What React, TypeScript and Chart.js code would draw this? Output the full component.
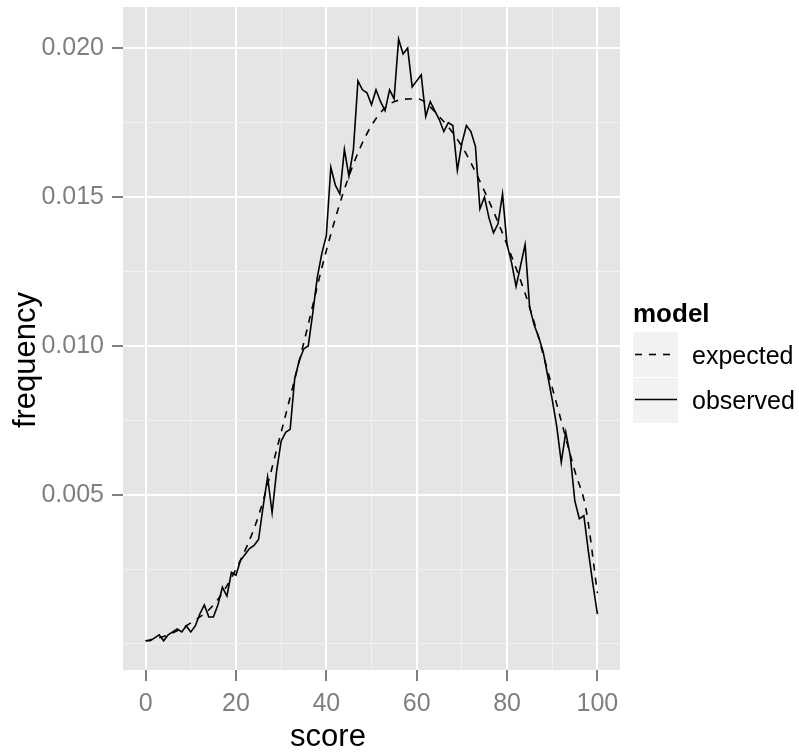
import React, { useEffect, useRef } from 'react';
import { Chart, registerables } from 'chart.js';

Chart.register(...registerables);

// ---- data ----
const obsScores = [
  0, 1, 2, 3, 4, 5, 6, 7, 8, 9, 10, 11, 12, 13, 14, 15, 16, 17, 18, 19, 20,
  21, 22, 23, 24, 25, 26, 27, 28, 29, 30, 31, 32, 33, 34, 35, 36, 37, 38, 39, 40,
  41, 42, 43, 44, 45, 46, 47, 48, 49, 50, 51, 52, 53, 54, 55, 56, 57, 58, 59, 60,
  61, 62, 63, 64, 65, 66, 67, 68, 69, 70, 71, 72, 73, 74, 75, 76, 77, 78, 79, 80,
  81, 82, 83, 84, 85, 86, 87, 88, 89, 90, 91, 92, 93, 94, 95, 96, 97, 98, 99, 100,
];
const obsFreq = [
  0.0001, 0.0001, 0.0002, 0.0003, 0.0001, 0.0003, 0.0004, 0.0005, 0.0004, 0.0006, 0.0004,
  0.0006, 0.0010, 0.0013, 0.0009, 0.0009, 0.0013, 0.0019, 0.0016, 0.0024, 0.0023,
  0.0028, 0.0030, 0.0032, 0.0033, 0.0035, 0.0046, 0.0056, 0.0044, 0.0058, 0.0068,
  0.0071, 0.0072, 0.0089, 0.0095, 0.0099, 0.0100, 0.0111, 0.0123, 0.0131, 0.0137,
  0.0160, 0.0154, 0.0151, 0.0166, 0.0157, 0.0166, 0.0189, 0.0186, 0.0185, 0.0181,
  0.0186, 0.0182, 0.0179, 0.0186, 0.0183, 0.0203, 0.0198, 0.0200, 0.0187, 0.0189,
  0.0191, 0.0177, 0.0182, 0.0179, 0.0176, 0.0172, 0.0175, 0.0174, 0.0159, 0.0168,
  0.0174, 0.0172, 0.0167, 0.0146, 0.0150, 0.0143, 0.0138, 0.0141, 0.0151, 0.0134,
  0.0128, 0.0120, 0.0127, 0.0134, 0.0113, 0.0107, 0.0103, 0.0098, 0.0090, 0.0082,
  0.0073, 0.0061, 0.0071, 0.0063, 0.0048, 0.0042, 0.0043, 0.0031, 0.0020, 0.0010,
];
const expScores = [0, 5, 10, 15, 20, 25, 30, 35, 40, 45, 50, 55, 60, 65, 70, 75, 80, 85, 90, 95, 97.5, 100];
const expFreq = [
  0.0001, 0.0003, 0.0007, 0.0013, 0.0025, 0.0043, 0.0071, 0.0101, 0.0132, 0.0157, 0.0174,
  0.0182, 0.0183, 0.0177, 0.0167, 0.0152, 0.0134, 0.0113, 0.0086, 0.0058, 0.0045, 0.0017,
];

const xTickValues = [0, 10, 20, 30, 40, 50, 60, 70, 80, 90, 100];
const xLabelTicks = [0, 20, 40, 60, 80, 100];
const yTickValues = [0, 0.0025, 0.005, 0.0075, 0.01, 0.0125, 0.015, 0.0175, 0.02];
const yLabelTicks = [0.005, 0.01, 0.015, 0.02];
const yTickLabels = ['0.005', '0.010', '0.015', '0.020'];

const xTitle = 'score';
const yTitle = 'frequency';
const legendTitle = 'model';
const seriesNames = ['expected', 'observed'];

const FONT = '"Liberation Sans", Arial, sans-serif';
const LINE_W = 1.6;

const near = (a: number, b: number) => Math.abs(a - b) < 1e-9;
const isIn = (v: number, arr: number[]) => arr.some((a) => near(a, v));

const decorPlugin = {
  id: 'decor',
  beforeDraw(chart: any) {
    const { ctx, chartArea } = chart;
    ctx.save();
    ctx.fillStyle = '#E5E5E5';
    ctx.fillRect(chartArea.left, chartArea.top, chartArea.right - chartArea.left, chartArea.bottom - chartArea.top);
    ctx.restore();
  },
  afterDraw(chart: any) {
    const { ctx } = chart;
    ctx.save();
    // axis titles
    ctx.fillStyle = '#000000';
    ctx.font = `31px ${FONT}`;
    ctx.textAlign = 'center';
    ctx.textBaseline = 'alphabetic';
    ctx.fillText(xTitle, 328, 746);
    ctx.save();
    ctx.translate(35, 360);
    ctx.rotate(-Math.PI / 2);
    ctx.fillText(yTitle, 0, 0);
    ctx.restore();

    // legend
    ctx.textAlign = 'left';
    ctx.font = `bold 26px ${FONT}`;
    ctx.fillText(legendTitle, 633, 322);
    ctx.fillStyle = '#F2F2F2';
    ctx.fillRect(633, 332, 45, 45);
    ctx.fillRect(633, 378, 45, 45);
    ctx.strokeStyle = '#000000';
    ctx.lineWidth = LINE_W;
    ctx.setLineDash([7, 7]);
    ctx.beginPath();
    ctx.moveTo(635, 354.5);
    ctx.lineTo(677, 354.5);
    ctx.stroke();
    ctx.setLineDash([]);
    ctx.beginPath();
    ctx.moveTo(635, 399.5);
    ctx.lineTo(677, 399.5);
    ctx.stroke();
    ctx.fillStyle = '#000000';
    ctx.font = `25px ${FONT}`;
    ctx.fillText(seriesNames[0], 692, 364);
    ctx.fillText(seriesNames[1], 692, 409);
    ctx.restore();
  },
};

export default function App() {
  const canvasRef = useRef<HTMLCanvasElement | null>(null);

  useEffect(() => {
    const canvas = canvasRef.current;
    if (!canvas) return;
    const chart = new Chart(canvas, {
      type: 'line',
      data: {
        datasets: [
          {
            label: seriesNames[0],
            data: expScores.map((x, i) => ({ x, y: expFreq[i] })),
            borderColor: '#000000',
            borderWidth: LINE_W,
            borderDash: [7, 7],
            pointRadius: 0,
            cubicInterpolationMode: 'monotone',
            fill: false,
          },
          {
            label: seriesNames[1],
            data: obsScores.map((x, i) => ({ x, y: obsFreq[i] })),
            borderColor: '#000000',
            borderWidth: LINE_W,
            pointRadius: 0,
            tension: 0,
            fill: false,
          },
        ],
      },
      options: {
        animation: false,
        responsive: false,
        devicePixelRatio: 1,
        layout: { padding: { top: 7, right: 179, bottom: 0, left: 0 } },
        plugins: {
          legend: { display: false },
          tooltip: { enabled: false },
        },
        scales: {
          x: {
            type: 'linear',
            min: -5,
            max: 105,
            bounds: 'data',
            afterBuildTicks: (s: any) => {
              s.ticks = xTickValues.map((v) => ({ value: v }));
            },
            afterFit: (s: any) => {
              s.height = 83;
              s.paddingLeft = 0;
              s.paddingRight = 0;
            },
            border: { display: false },
            grid: {
              color: (c: any) => (c.tick && isIn(c.tick.value, xLabelTicks) ? '#FFFFFF' : '#F2F2F2'),
              lineWidth: (c: any) => (c.tick && isIn(c.tick.value, xLabelTicks) ? 2 : 1),
              tickColor: (c: any) => (c.tick && isIn(c.tick.value, xLabelTicks) ? '#7F7F7F' : 'rgba(0,0,0,0)'),
              tickWidth: 2,
              tickLength: 11,
              drawTicks: true,
            },
            ticks: {
              autoSkip: false,
              maxRotation: 0,
              padding: 8,
              color: '#7F7F7F',
              font: { family: FONT, size: 25 },
              callback: (v: any) => (isIn(Number(v), xLabelTicks) ? String(v) : ''),
            },
          },
          y: {
            type: 'linear',
            min: -0.00088,
            max: 0.02138,
            bounds: 'data',
            afterBuildTicks: (s: any) => {
              s.ticks = yTickValues.map((v) => ({ value: v }));
            },
            afterFit: (s: any) => {
              s.width = 123;
              s.paddingTop = 0;
              s.paddingBottom = 0;
            },
            border: { display: false },
            grid: {
              color: (c: any) => (c.tick && isIn(c.tick.value, yLabelTicks) ? '#FFFFFF' : '#F2F2F2'),
              lineWidth: (c: any) => (c.tick && isIn(c.tick.value, yLabelTicks) ? 2 : 1),
              tickColor: (c: any) => (c.tick && isIn(c.tick.value, yLabelTicks) ? '#7F7F7F' : 'rgba(0,0,0,0)'),
              tickWidth: 2,
              tickLength: 11,
              drawTicks: true,
            },
            ticks: {
              autoSkip: false,
              padding: 8,
              color: '#7F7F7F',
              font: { family: FONT, size: 25 },
              callback: (v: any) => {
                const idx = yLabelTicks.findIndex((a) => near(a, Number(v)));
                return idx >= 0 ? yTickLabels[idx] : '';
              },
            },
          },
        },
      },
      plugins: [decorPlugin],
    } as any);
    return () => chart.destroy();
  }, []);

  return (
    <div style={{ position: 'absolute', left: 0, top: 0, width: 799, height: 753, background: '#FFFFFF' }}>
      <canvas ref={canvasRef} width={799} height={753} style={{ display: 'block', width: 799, height: 753 }} />
    </div>
  );
}
